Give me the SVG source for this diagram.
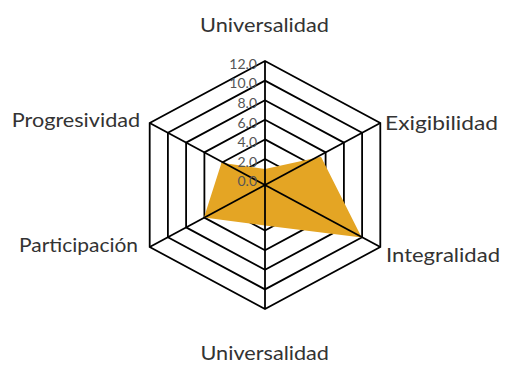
<svg xmlns="http://www.w3.org/2000/svg" width="506" height="365" viewBox="0 0 506 365">
<style>
.ring{fill:none;stroke:#000;stroke-width:1.8;stroke-linejoin:miter}
.spoke{stroke:#000;stroke-width:1.8}
.lbl{font-family:Lato,"Noto Sans","Liberation Sans",sans-serif;font-size:20px;font-weight:400;fill:#333}
.tick{font-family:Lato,"Noto Sans","Liberation Sans",sans-serif;font-size:14px;font-weight:400;fill:#555;text-anchor:end}
.area{fill:#E4A524;stroke:none}
</style>
<rect width="506" height="365" fill="#fff"/>
<g id="grid">
<polygon class="ring" points="265,61 380.3,123 380.3,247 265,309 149.7,247 149.7,123"/>
<polygon class="ring" points="265,80.6 362.1,132.8 362.1,237.2 265,289.4 167.9,237.2 167.9,132.8"/>
<polygon class="ring" points="265,100.2 343.9,142.6 343.9,227.4 265,269.8 186.1,227.4 186.1,142.6"/>
<polygon class="ring" points="265,119.8 325.6,152.4 325.6,217.6 265,250.2 204.4,217.6 204.4,152.4"/>
<polygon class="ring" points="265,139.4 307.4,162.2 307.4,207.8 265,230.6 222.6,207.8 222.6,162.2"/>
<polygon class="ring" points="265,159 289.2,172 289.2,198 265,211 240.8,198 240.8,172"/>
</g>
<g id="series">
<polygon class="area" points="265,169 321,156.7 361.7,237.5 265,225.5 204,217.5 221.5,162.7"/>
</g>
<g id="connectors">
<line class="spoke" x1="265" y1="61" x2="265" y2="309"/>
<line class="spoke" x1="149.7" y1="123" x2="380.3" y2="247"/>
<line class="spoke" x1="380.3" y1="123" x2="149.7" y2="247"/>
</g>
<g id="ticks">
<text class="tick" x="257" y="68.7">12.0</text>
<text class="tick" x="257" y="88.3">10.0</text>
<text class="tick" x="257" y="107.9">8.0</text>
<text class="tick" x="257" y="127.5">6.0</text>
<text class="tick" x="257" y="147.1">4.0</text>
<text class="tick" x="257" y="166.7">2.0</text>
<text class="tick" x="257" y="186.3">0.0</text>
</g>
<g id="axis-universalidad-top"><text class="lbl" x="200" y="31.7" textLength="129" lengthAdjust="spacingAndGlyphs">Universalidad</text></g>
<g id="axis-exigibilidad"><text class="lbl" x="385" y="130" textLength="113" lengthAdjust="spacingAndGlyphs">Exigibilidad</text></g>
<g id="axis-integralidad"><text class="lbl" x="386" y="261.7" textLength="114" lengthAdjust="spacingAndGlyphs">Integralidad</text></g>
<g id="axis-universalidad-bottom"><text class="lbl" x="200.5" y="360" textLength="128.5" lengthAdjust="spacingAndGlyphs">Universalidad</text></g>
<g id="axis-participacion"><text class="lbl" x="19" y="251.7" textLength="119" lengthAdjust="spacingAndGlyphs">Participación</text></g>
<g id="axis-progresividad"><text class="lbl" x="11.7" y="126.7" textLength="128.5" lengthAdjust="spacingAndGlyphs">Progresividad</text></g>
</svg>
